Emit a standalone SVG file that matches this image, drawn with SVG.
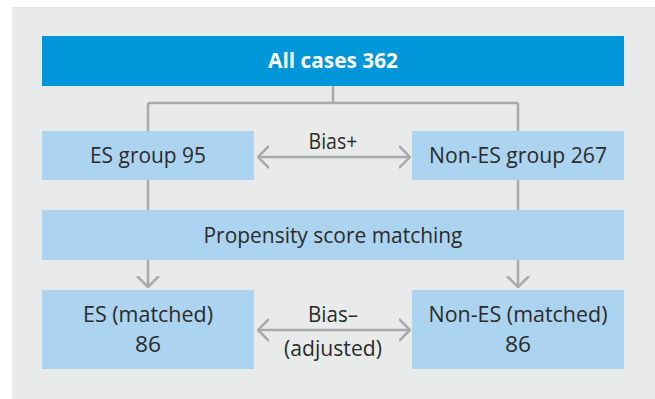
<svg xmlns="http://www.w3.org/2000/svg" width="655" height="399" viewBox="0 0 655 399">
<defs>
<style>
.bg{fill:#e9ebeb}
.main{fill:#0096da}
.box{fill:#acd3ef}
.ln{stroke:#a7a9ab;stroke-width:2.5;fill:none}
.t{font-family:"Open Sans","DejaVu Sans",sans-serif;font-size:21px;fill:#2b2b2b;text-anchor:middle}
.tb{font-family:"Open Sans","DejaVu Sans",sans-serif;font-size:21px;font-weight:bold;fill:#ffffff;text-anchor:middle}
</style>
<marker id="ah" viewBox="0 0 12 24" refX="11" refY="12" markerWidth="12" markerHeight="24" markerUnits="userSpaceOnUse" orient="auto-start-reverse">
<path d="M0,1 L11,12 L0,23" fill="none" stroke="#a7a9ab" stroke-width="2.5"/>
</marker>
</defs>
<rect class="bg" x="12" y="7" width="643" height="392"/>
<g id="connectors">
<path class="ln" d="M333,86 V103 M148,103 H518 M148,103 V131 M518,103 V131"/>
<path class="ln" d="M148,180 V210 M518,180 V210"/>
<path class="ln" d="M148,260 V287" marker-end="url(#ah)"/>
<path class="ln" d="M518,260 V287" marker-end="url(#ah)"/>
<path class="ln" d="M258,157 H410" marker-start="url(#ah)" marker-end="url(#ah)"/>
<path class="ln" d="M258,330 H410" marker-start="url(#ah)" marker-end="url(#ah)"/>
<text class="t" x="333" y="149" textLength="49" lengthAdjust="spacingAndGlyphs">Bias+</text>
<text class="t" x="333" y="322" textLength="50" lengthAdjust="spacingAndGlyphs">Bias–</text>
<text class="t" x="333" y="356" textLength="98" lengthAdjust="spacingAndGlyphs">(adjusted)</text>
</g>
<g id="all">
<rect class="main" x="42" y="36" width="582" height="50"/>
<text class="tb" x="333" y="68" textLength="130" lengthAdjust="spacingAndGlyphs">All cases 362</text>
</g>
<g id="es">
<rect class="box" x="42" y="131" width="212" height="49"/>
<text class="t" x="148" y="163" textLength="116" lengthAdjust="spacingAndGlyphs">ES group 95</text>
</g>
<g id="nones">
<rect class="box" x="412" y="131" width="212" height="49"/>
<text class="t" x="518" y="163" textLength="178" lengthAdjust="spacingAndGlyphs">Non-ES group 267</text>
</g>
<g id="psm">
<rect class="box" x="42" y="210" width="582" height="50"/>
<text class="t" x="333" y="243" textLength="259" lengthAdjust="spacingAndGlyphs">Propensity score matching</text>
</g>
<g id="es-matched">
<rect class="box" x="42" y="290" width="212" height="79"/>
<text class="t" x="148" y="322" textLength="130" lengthAdjust="spacingAndGlyphs">ES (matched)</text>
<text class="t" x="148" y="352" textLength="26" lengthAdjust="spacingAndGlyphs">86</text>
</g>
<g id="nones-matched">
<rect class="box" x="412" y="290" width="212" height="79"/>
<text class="t" x="518" y="322" textLength="179" lengthAdjust="spacingAndGlyphs">Non-ES (matched)</text>
<text class="t" x="518" y="352" textLength="26" lengthAdjust="spacingAndGlyphs">86</text>
</g>
</svg>
